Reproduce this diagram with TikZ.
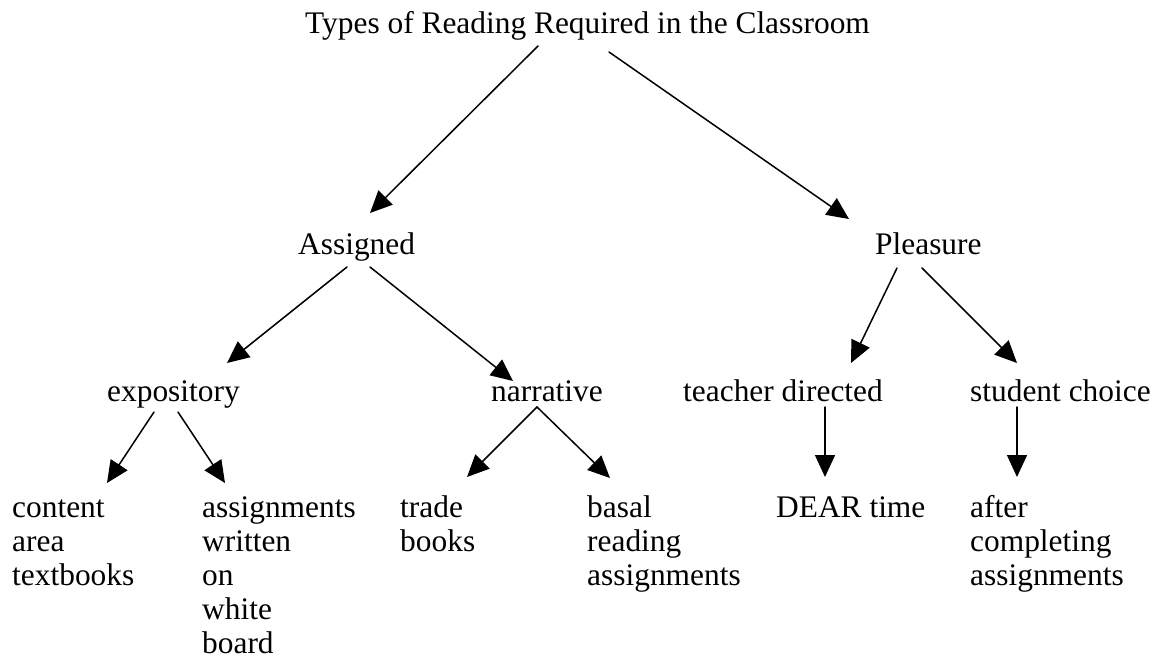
\documentclass[tikz,border=0pt]{standalone}
\usepackage{fontspec}
\setmainfont{Liberation Serif}
\usetikzlibrary{arrows.meta}

\begin{document}
\begin{tikzpicture}[x=1pt,y=1pt,line cap=round,
    word/.style={inner sep=0pt,anchor=base west,align=left,
      font=\fontsize{31.4}{34}\selectfont},
    arr/.style={line width=1.5pt,-{Triangle[length=22pt,width=20pt]}}]
    \useasboundingbox (0,0) rectangle (1163,-662);
    % levels of the tree (multi-line nodes sit on their last line)
    \node[word] (title) at (305,-33) {Types of Reading Required in the Classroom};
    \node[word] (assigned) at (298,-254) {Assigned};
    \node[word] (pleasure) at (875,-254) {Pleasure};
    \node[word] (expos) at (107,-401) {expository};
    \node[word] (narr) at (491,-401) {narrative};
    \node[word] (teach) at (683,-401) {teacher directed};
    \node[word] (choice) at (970,-401) {student choice};
    \node[word] (content) at (12,-585) {content\\area\\textbooks};
    \node[word] (board) at (202,-653) {assignments\\written\\on\\white\\board};
    \node[word] (trade) at (400,-551) {trade\\books};
    \node[word] (basal) at (587,-585) {basal\\reading\\assignments};
    \node[word] (dear) at (776,-517) {DEAR time};
    \node[word] (after) at (970,-585) {after\\completing\\assignments};
    % arrows
    \draw[arr] ([shift={(233,-13)}]title.base west) -- ([shift={(72,41)}]assigned.base west);
    \draw[arr] ([shift={(304,-19)}]title.base west) -- ([shift={(-26,35)}]pleasure.base west);
    \draw[arr] ([shift={(49,-13)}]assigned.base west) -- ([shift={(120,38)}]expos.base west);
    \draw[arr] ([shift={(72,-13)}]assigned.base west) -- ([shift={(22,20)}]narr.base west);
    \draw[arr] ([shift={(22,-14)}]pleasure.base west) -- ([shift={(168,38)}]teach.base west);
    \draw[arr] ([shift={(47,-14)}]pleasure.base west) -- ([shift={(47,38)}]choice.base west);
    \draw[arr] ([shift={(47,-11)}]expos.base west) -- ([shift={(95,102)}]content.base west);
    \draw[arr] ([shift={(71,-11)}]expos.base west) -- ([shift={(23,170)}]board.base west);
    \draw[arr] ([shift={(46,-6)}]narr.base west) -- ([shift={(67,74)}]trade.base west);
    \draw[arr] ([shift={(46,-6)}]narr.base west) -- ([shift={(23,107)}]basal.base west);
    \draw[arr] ([shift={(142,-6)}]teach.base west) -- ([shift={(49,40)}]dear.base west);
    \draw[arr] ([shift={(47,-6)}]choice.base west) -- ([shift={(47,108)}]after.base west);
\end{tikzpicture}
\end{document}
